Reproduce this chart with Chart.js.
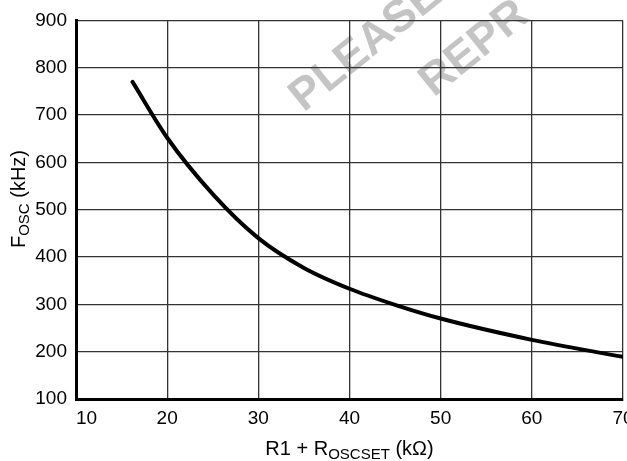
<!DOCTYPE html>
<html>
<head>
<meta charset="utf-8">
<script src="https://cdn.jsdelivr.net/npm/chart.js@4"></script>
<style>
  html, body { margin: 0; padding: 0; background: #fff; }
  #wrap { width: 627px; height: 461px; }
</style>
</head>
<body>
<div id="wrap"><canvas id="chartFosc" width="627" height="461"></canvas></div>
<script>
// R1 + ROSCSET (kOhm) vs FOSC (kHz)
const resistencia = [16.2, 20, 25, 30, 35, 40, 45, 50, 60, 70];
const frecuencia = [770, 652, 533, 440, 377, 333, 299, 270, 225, 189];
const ticksX = [10, 20, 30, 40, 50, 60, 70];
const ticksY = [100, 200, 300, 400, 500, 600, 700, 800, 900];

const FUENTE = '"Liberation Sans", Arial, Helvetica, sans-serif';

function anchoPartes(ctx, partes) {
    let w = 0;
    partes.forEach(p => {
        ctx.font = p.sub ? `15px ${FUENTE}` : `20px ${FUENTE}`;
        w += ctx.measureText(p.t).width;
    });
    return w;
}
function dibujarPartes(ctx, partes, x, y) {
    partes.forEach(p => {
        ctx.font = p.sub ? `15px ${FUENTE}` : `20px ${FUENTE}`;
        ctx.fillText(p.t, x, p.sub ? y + 4 : y);
        x += ctx.measureText(p.t).width;
    });
}

function marcaAgua(ctx, texto, x, y) {
    ctx.save();
    ctx.fillStyle = '#c4c4c4';
    ctx.font = `bold 45px ${FUENTE}`;
    ctx.textBaseline = 'middle';
    ctx.textAlign = 'left';
    ctx.translate(x, y);
    ctx.rotate(-39 * Math.PI / 180);
    ctx.fillText(texto, 0, 0);
    ctx.restore();
}

const pluginTextos = {
    id: 'textos',
    beforeDraw(chart) {
        // faint watermark behind the grid
        marcaAgua(chart.ctx, 'PLEASE', 296, 103);
        marcaAgua(chart.ctx, 'REPR', 426, 88);
    },
    afterDraw(chart) {
        const ctx = chart.ctx;
        const xs = chart.scales.x;
        const area = chart.chartArea;
        ctx.save();
        ctx.fillStyle = '#000';
        ctx.font = `19px ${FUENTE}`;
        ctx.textBaseline = 'alphabetic';
        xs.ticks.forEach((t, i) => {
            const px = xs.getPixelForValue(t.value);
            ctx.textAlign = i === 0 ? 'left' : 'center';
            ctx.fillText(String(t.value), px, 424);
        });

        // x axis title
        ctx.textAlign = 'left';
        const tituloX = [{ t: 'R1 + R' }, { t: 'OSCSET', sub: true }, { t: ' (kΩ)' }];
        const wx = anchoPartes(ctx, tituloX);
        dibujarPartes(ctx, tituloX, (area.left + area.right) / 2 - wx / 2, 455);

        // y axis title, rotated
        const tituloY = [{ t: 'F' }, { t: 'OSC', sub: true }, { t: ' (kHz)' }];
        const wy = anchoPartes(ctx, tituloY);
        ctx.translate(25, 199);
        ctx.rotate(-Math.PI / 2);
        dibujarPartes(ctx, tituloY, -wy / 2, 0);
        ctx.restore();
    }
};

const ctx = document.getElementById('chartFosc');
new Chart(ctx, {
    type: 'scatter',
    data: {
        datasets: [{
            data: resistencia.map((r, i) => ({ x: r, y: frecuencia[i] })),
            showLine: true,
            borderColor: '#000',
            borderWidth: 4,
            pointRadius: 0,
            cubicInterpolationMode: 'monotone',
            borderCapStyle: 'round'
        }]
    },
    options: {
        responsive: false,
        animation: false,
        devicePixelRatio: 1,
        layout: { padding: { top: 15, right: 4, left: 0, bottom: 0 } },
        plugins: {
            legend: { display: false },
            tooltip: { enabled: false }
        },
        scales: {
            x: {
                type: 'linear',
                min: 10,
                max: 70,
                afterBuildTicks: (s) => { s.ticks = ticksX.map(v => ({ value: v })); },
                afterFit: (s) => { s.height = 62; },
                ticks: { display: false },
                grid: { color: '#333', lineWidth: 1.3, drawTicks: false },
                border: { color: '#000', width: 3 }
            },
            y: {
                type: 'linear',
                min: 100,
                max: 900,
                afterBuildTicks: (s) => { s.ticks = ticksY.map(v => ({ value: v })); },
                afterFit: (s) => { s.width = 76; },
                ticks: {
                    color: '#000',
                    padding: 9,
                    font: { family: FUENTE, size: 19 }
                },
                grid: { color: '#333', lineWidth: 1.3, drawTicks: false },
                border: { color: '#000', width: 3 }
            }
        }
    },
    plugins: [pluginTextos]
});
</script>
</body>
</html>
